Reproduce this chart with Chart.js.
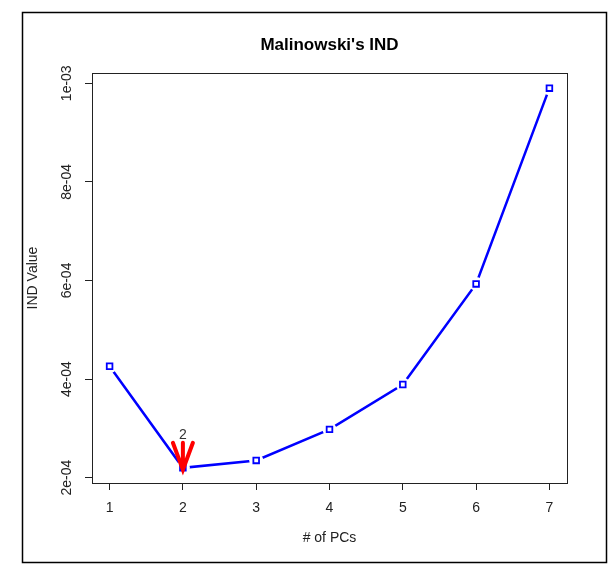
<!DOCTYPE html>
<html>
<head>
<meta charset="utf-8">
<script src="https://cdn.jsdelivr.net/npm/chart.js@4.4.1/dist/chart.umd.min.js"></script>
<style>
  html, body { margin: 0; padding: 0; background: #fff; }
  canvas { display: block; }
</style>
</head>
<body>
<canvas id="ind_chart" width="614" height="573"></canvas>
<script>
const numPCs = [1, 2, 3, 4, 5, 6, 7];
const indValues = [4.26e-4, 2.20e-4, 2.35e-4, 2.98e-4, 3.89e-4, 5.93e-4, 9.90e-4];
const yTickValues = [2e-4, 4e-4, 6e-4, 8e-4, 1e-3];
const yTickLabels = ['2e-04', '4e-04', '6e-04', '8e-04', '1e-03'];
const bestPC = 2;
const chartTitle = "Malinowski's IND";

const FONT = '"Liberation Sans", Arial, sans-serif';
const points = numPCs.map((pc, i) => ({ x: pc, y: indValues[i] }));

// R pads the data range by 4% on each side
const xPad = (Math.max(...numPCs) - Math.min(...numPCs)) * 0.04;
const yPad = (Math.max(...indValues) - Math.min(...indValues)) * 0.04;

const rFrame = {
    id: 'rFrame',
    afterDatasetsDraw(chart) {
        const { ctx, scales: { x, y } } = chart;
        const tx = x.getPixelForValue(bestPC);
        const ty = y.getPixelForValue(indValues[bestPC - 1]);
        ctx.save();
        ctx.strokeStyle = '#ff0000';
        ctx.lineWidth = 4;
        ctx.lineCap = 'round';
        ctx.beginPath();
        ctx.moveTo(tx, ty - 25);
        ctx.lineTo(tx, ty + 2);
        ctx.moveTo(tx - 10, ty - 25);
        ctx.lineTo(tx, ty + 2);
        ctx.lineTo(tx + 10, ty - 25);
        ctx.stroke();
        ctx.fillStyle = '#333';
        ctx.font = '14px ' + FONT;
        ctx.textAlign = 'center';
        ctx.textBaseline = 'middle';
        ctx.fillText(String(bestPC), tx, ty - 33);
        ctx.restore();
    },
    afterDraw(chart) {
        const { ctx, chartArea: a, scales: { y } } = chart;
        ctx.save();
        ctx.strokeStyle = '#000';
        ctx.lineWidth = 1.5;
        ctx.strokeRect(22.5, 12.5, 584, 550);
        ctx.lineWidth = 1;
        ctx.strokeStyle = '#222';
        ctx.strokeRect(a.left + 0.5, a.top + 0.5, a.right - a.left, a.bottom - a.top);

        ctx.fillStyle = '#000';
        ctx.textAlign = 'center';
        ctx.textBaseline = 'middle';
        ctx.font = 'bold 17px ' + FONT;
        ctx.fillText(chartTitle, (a.left + a.right) / 2, 45);

        ctx.font = '14px ' + FONT;
        ctx.fillStyle = '#222';
        yTickValues.forEach((v, i) => {
            ctx.save();
            ctx.translate(67, y.getPixelForValue(v));
            ctx.rotate(-Math.PI / 2);
            ctx.fillText(yTickLabels[i], 0, 0);
            ctx.restore();
        });
        ctx.restore();
    }
};

const tickGrid = {
    drawOnChartArea: false,
    drawTicks: true,
    tickLength: 7,
    color: '#222',
    lineWidth: 1
};

const indChart = new Chart(document.getElementById('ind_chart'), {
    type: 'line',
    data: {
        datasets: [{
            label: 'IND',
            data: points,
            borderColor: '#0000ff',
            borderWidth: 2.5,
            pointRadius: 0,
            tension: 0,
            order: 3
        }, {
            label: 'gap',
            data: points,
            showLine: false,
            pointRadius: 7,
            pointBackgroundColor: '#ffffff',
            pointBorderWidth: 0,
            order: 2
        }, {
            label: 'marks',
            data: points,
            showLine: false,
            pointStyle: 'rect',
            pointRadius: 4,
            pointBorderColor: '#0000ff',
            pointBackgroundColor: '#ffffff',
            pointBorderWidth: 1.8,
            order: 1
        }]
    },
    options: {
        responsive: false,
        animation: false,
        events: [],
        layout: {
            padding: { left: 0, right: 47, top: 73, bottom: 0 }
        },
        plugins: {
            legend: { display: false },
            tooltip: { enabled: false }
        },
        scales: {
            x: {
                type: 'linear',
                min: Math.min(...numPCs) - xPad,
                max: Math.max(...numPCs) + xPad,
                afterBuildTicks: s => { s.ticks = numPCs.map(v => ({ value: v })); },
                afterFit: s => { s.height = 90; },
                grid: tickGrid,
                border: { display: false },
                ticks: {
                    autoSkip: false,
                    maxRotation: 0,
                    padding: 10,
                    color: '#222',
                    font: { family: FONT, size: 14 }
                },
                title: {
                    display: true,
                    text: '# of PCs',
                    color: '#222',
                    font: { family: FONT, size: 14 },
                    padding: { top: 0, bottom: 26.6 }
                }
            },
            y: {
                type: 'linear',
                min: Math.min(...indValues) - yPad,
                max: Math.max(...indValues) + yPad,
                afterBuildTicks: s => { s.ticks = yTickValues.map(v => ({ value: v })); },
                afterFit: s => { s.width = 92; },
                grid: tickGrid,
                border: { display: false },
                ticks: { display: false },
                title: {
                    display: true,
                    text: 'IND Value',
                    color: '#222',
                    font: { family: FONT, size: 14 },
                    padding: { top: 24.6, bottom: 0 }
                }
            }
        }
    },
    plugins: [rFrame]
});
</script>
</body>
</html>
